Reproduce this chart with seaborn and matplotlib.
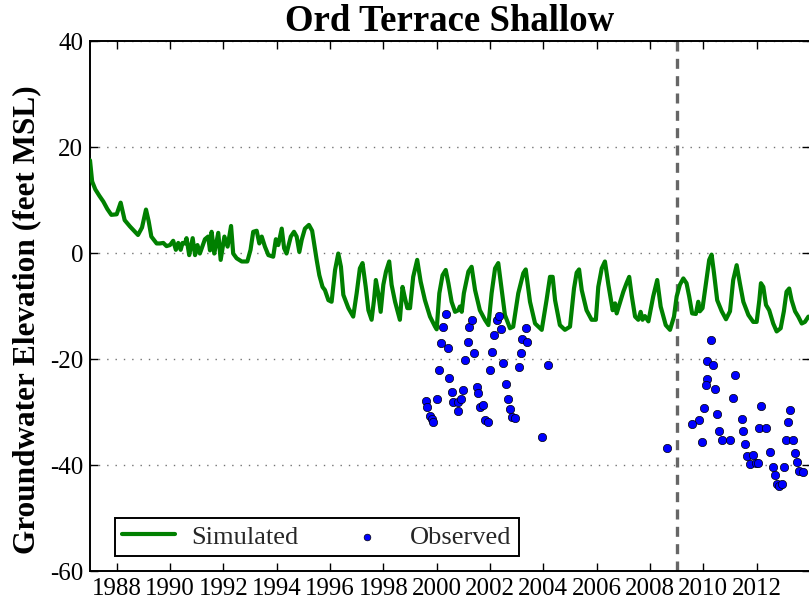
import matplotlib
matplotlib.use("Agg")
import matplotlib.pyplot as plt
import seaborn as sns
import pandas as pd

# ---------------- data ----------------
sim_years = [
    1987.00, 1987.08, 1987.20, 1987.35, 1987.50, 1987.65, 1987.80, 1988.00, 1988.15, 1988.30,
    1988.50, 1988.65, 1988.80, 1988.95, 1989.10, 1989.20, 1989.30, 1989.50, 1989.62, 1989.75,
    1989.87, 1990.00, 1990.12, 1990.22, 1990.31, 1990.40, 1990.47, 1990.56, 1990.62, 1990.72,
    1990.85, 1990.94, 1991.03, 1991.12, 1991.31, 1991.43, 1991.50, 1991.56, 1991.66, 1991.81,
    1991.90, 1992.04, 1992.16, 1992.29, 1992.37, 1992.50, 1992.69, 1992.90, 1993.02, 1993.12,
    1993.25, 1993.35, 1993.44, 1993.56, 1993.69, 1993.87, 1993.97, 1994.06, 1994.19, 1994.28,
    1994.37, 1994.53, 1994.65, 1994.75, 1994.85, 1994.94, 1995.06, 1995.21, 1995.33, 1995.50,
    1995.60, 1995.72, 1995.81, 1995.94, 1996.06, 1996.19, 1996.31, 1996.41, 1996.50, 1996.69,
    1996.87, 1997.00, 1997.12, 1997.22, 1997.34, 1997.44, 1997.56, 1997.65, 1997.72, 1997.81,
    1997.90, 1998.00, 1998.10, 1998.22, 1998.31, 1998.44, 1998.62, 1998.72, 1998.81, 1998.90,
    1999.00, 1999.12, 1999.27, 1999.40, 1999.56, 1999.75, 1999.94, 2000.00, 2000.10, 2000.22,
    2000.34, 2000.44, 2000.56, 2000.69, 2000.81, 2000.87, 2000.94, 2001.02, 2001.19, 2001.31,
    2001.44, 2001.62, 2001.81, 2001.94, 2002.06, 2002.19, 2002.31, 2002.44, 2002.56, 2002.75,
    2002.87, 2003.06, 2003.25, 2003.34, 2003.50, 2003.69, 2003.94, 2004.12, 2004.25, 2004.35,
    2004.44, 2004.62, 2004.81, 2005.00, 2005.15, 2005.25, 2005.34, 2005.44, 2005.62, 2005.81,
    2005.97, 2006.06, 2006.19, 2006.31, 2006.44, 2006.60, 2006.69, 2006.75, 2006.81, 2007.00,
    2007.12, 2007.22, 2007.31, 2007.44, 2007.56, 2007.65, 2007.72, 2007.81, 2007.94, 2008.12,
    2008.27, 2008.40, 2008.59, 2008.75, 2008.90, 2009.00, 2009.12, 2009.25, 2009.37, 2009.47,
    2009.58, 2009.72, 2009.81, 2009.87, 2009.97, 2010.10, 2010.22, 2010.31, 2010.40, 2010.52,
    2010.69, 2010.85, 2011.00, 2011.12, 2011.25, 2011.37, 2011.50, 2011.69, 2011.87, 2012.00,
    2012.10, 2012.16, 2012.25, 2012.35, 2012.47, 2012.62, 2012.75, 2012.90, 2013.02, 2013.12,
    2013.22, 2013.31, 2013.44, 2013.56, 2013.69, 2013.81, 2013.94,
]
sim_levels = [
    17.5, 13.5, 12.0, 10.8, 9.7, 8.3, 7.2, 7.3, 9.5, 6.2,
    5.0, 4.2, 3.4, 4.8, 8.2, 6.0, 3.1, 1.8, 1.8, 1.9,
    1.3, 1.5, 2.3, 0.6, 1.9, 0.6, 1.9, 1.8, 2.8, -0.4,
    2.8, -0.4, 1.5, -0.1, 2.6, 3.1, 0.5, 4.0, -0.1, 3.8,
    -1.3, 3.1, 1.2, 5.1, -0.1, -1.0, -1.6, -1.6, 0.6, 4.0,
    4.2, 1.8, 3.1, 1.2, -0.4, -0.7, 2.6, 1.5, 4.6, 0.9,
    -0.1, 3.1, 4.0, 3.1, 0.2, 2.5, 4.6, 5.3, 4.2, -1.3,
    -4.2, -6.4, -7.0, -8.9, -9.2, -3.2, -0.1, -2.6, -7.9, -10.4,
    -12.0, -7.6, -2.9, -1.9, -6.4, -10.8, -12.6, -8.9, -5.1, -7.6,
    -11.1, -6.0, -3.5, -1.6, -6.0, -9.2, -12.6, -6.4, -8.5, -10.4,
    -10.4, -4.5, -1.3, -5.4, -8.9, -12.0, -13.9, -14.4, -7.6, -4.2,
    -3.2, -5.7, -9.2, -11.1, -10.8, -10.1, -11.1, -7.6, -3.5, -2.6,
    -7.0, -10.8, -12.6, -13.6, -7.6, -2.9, -1.9, -7.0, -11.7, -14.2,
    -13.9, -7.6, -3.8, -3.1, -9.2, -13.3, -14.5, -8.9, -4.5, -4.5,
    -8.9, -13.6, -14.5, -13.9, -6.7, -3.7, -3.1, -7.0, -10.8, -12.6,
    -12.6, -6.4, -2.9, -1.6, -6.0, -10.8, -9.5, -11.4, -10.4, -7.3,
    -5.7, -4.5, -7.9, -12.0, -12.6, -11.1, -12.6, -11.9, -12.9, -8.2,
    -5.1, -10.1, -13.6, -14.5, -12.0, -8.2, -6.0, -4.8, -5.7, -8.2,
    -11.4, -11.5, -9.2, -11.0, -10.4, -5.7, -1.3, -0.3, -3.8, -8.9,
    -11.0, -12.5, -11.0, -5.1, -2.3, -5.7, -9.2, -11.7, -13.0, -13.0,
    -8.9, -5.7, -6.4, -9.8, -10.8, -13.3, -14.8, -14.2, -11.0, -7.3,
    -6.7, -8.9, -11.0, -12.0, -13.3, -13.0, -12.0,
]

obs_years = [
    2000.34, 2000.22, 2000.16, 2000.41, 2000.09, 2000.47, 2000.56, 2000.02, 1999.60, 1999.65,
    1999.75, 1999.81, 1999.87, 2000.63, 2000.81, 2000.91, 2001.00, 2000.79, 2001.06, 2001.16,
    2001.22, 2001.32, 2001.41, 2001.51, 2001.56, 2001.62, 2001.75, 2001.81, 2001.91, 2002.00,
    2002.07, 2002.16, 2002.27, 2002.35, 2002.40, 2002.50, 2002.60, 2002.66, 2002.75, 2002.81,
    2002.94, 2003.09, 2003.16, 2003.21, 2003.34, 2003.40, 2004.19, 2003.96,
    2008.64,
    2010.28, 2010.15, 2010.37, 2010.12, 2010.09, 2010.45, 2011.18, 2011.10, 2010.02, 2009.82,
    2009.57, 2010.51, 2010.60, 2009.94, 2010.69, 2011.01, 2011.45, 2011.49, 2011.57, 2011.65,
    2011.87, 2011.75, 2011.97, 2012.05, 2012.17, 2012.10, 2012.35, 2012.50, 2012.60, 2012.67,
    2012.75, 2012.85, 2012.94, 2013.03, 2013.25, 2013.17, 2013.11, 2013.35, 2013.42, 2013.50,
    2013.58, 2013.72,
]
obs_levels = [
    -11.5, -14.0, -16.9, -18.0, -22.1, -23.6, -26.3, -27.6, -27.9, -29.0,
    -30.7, -31.3, -31.8, -28.2, -28.2, -27.5, -25.8, -29.8, -20.2, -16.7,
    -13.9, -12.6, -18.8, -25.3, -26.5, -29.1, -28.7, -31.5, -31.8, -22.1,
    -18.7, -15.5, -12.6, -11.8, -14.4, -20.8, -24.7, -27.5, -29.5, -31.0,
    -31.1, -21.5, -18.9, -16.3, -14.2, -16.7, -21.1, -34.7,
    -36.8,
    -16.4, -20.4, -21.2, -23.8, -24.9, -25.7, -23.0, -27.3, -29.3, -31.5,
    -32.2, -30.4, -33.5, -35.7, -35.3, -35.3, -31.3, -33.5, -36.1, -38.3,
    -38.1, -39.9, -39.7, -39.7, -28.8, -33.1, -33.1, -37.5, -40.4, -41.9,
    -43.5, -44.0, -43.5, -40.4, -29.6, -31.8, -35.3, -35.3, -37.8, -39.4,
    -41.1, -41.3,
]

x_ticks = list(range(1988, 2013, 2))
y_ticks = [-60, -40, -20, 0, 20, 40]
divider_year = 2009.0

title = "Ord Terrace Shallow"
ylabel = "Groundwater Elevation (feet MSL)"

sim_df = pd.DataFrame({"year": sim_years, "level": sim_levels})
obs_df = pd.DataFrame({"year": obs_years, "level": obs_levels})

# ---------------- style ----------------
sns.set_theme(style="white")
plt.rcParams["font.family"] = ["Liberation Serif", "DejaVu Serif"]
plt.rcParams["axes.edgecolor"] = "black"

W, H = 809, 602
fig = plt.figure(figsize=(W / 100, H / 100), dpi=100)
ax = fig.add_axes([90 / W, 31 / H, 720 / W, 530 / H])

sns.lineplot(data=sim_df, x="year", y="level", ax=ax, color="green",
             linewidth=3.0, estimator=None, label="Simulated", zorder=3)
sns.scatterplot(data=obs_df, x="year", y="level", ax=ax, color="blue",
                s=36, edgecolor="black", linewidth=0.5, label="Observed", zorder=4)

ax.axvline(divider_year, color="0.4", linewidth=2.4, linestyle=(0, (3, 2.2)), zorder=2)

ax.set_xlim(1987.0, 2014.0)
ax.set_ylim(-60, 40)
ax.set_xticks(x_ticks)
ax.set_xticklabels([str(t) for t in x_ticks])
ax.set_yticks(y_ticks)
ax.set_yticklabels([str(t) for t in y_ticks])

ax.yaxis.grid(True, color="0.45", linewidth=1.0, linestyle=(0, (1, 5)))
ax.xaxis.grid(False)

for sp in ax.spines.values():
    sp.set_visible(True)
    sp.set_color("black")
    sp.set_linewidth(1.4)

ax.tick_params(axis="both", which="major", direction="in", length=6, width=1,
               colors="black", labelcolor="black", labelsize=18,
               bottom=True, top=True, left=True, right=True, pad=5)

ax.set_xlabel("")
ax.set_ylabel(ylabel, fontsize=22.5, fontweight="bold", color="black")
ax.yaxis.set_label_coords(-0.068, 0.474)
ax.set_title(title, fontsize=26.5, fontweight="bold", color="black", pad=7)

handles, labels = ax.get_legend_handles_labels()
leg = ax.legend(handles, labels, loc="lower left", bbox_to_anchor=(25 / 720, 15 / 530),
                borderaxespad=0, ncol=2, fontsize=19, frameon=True, fancybox=False,
                edgecolor="black", framealpha=1, handlelength=2.0, columnspacing=1.62,
                markerscale=0.8, borderpad=0.28, handletextpad=0.6)
leg.get_frame().set_linewidth(1.4)

fig.savefig("out.png", dpi=100)
